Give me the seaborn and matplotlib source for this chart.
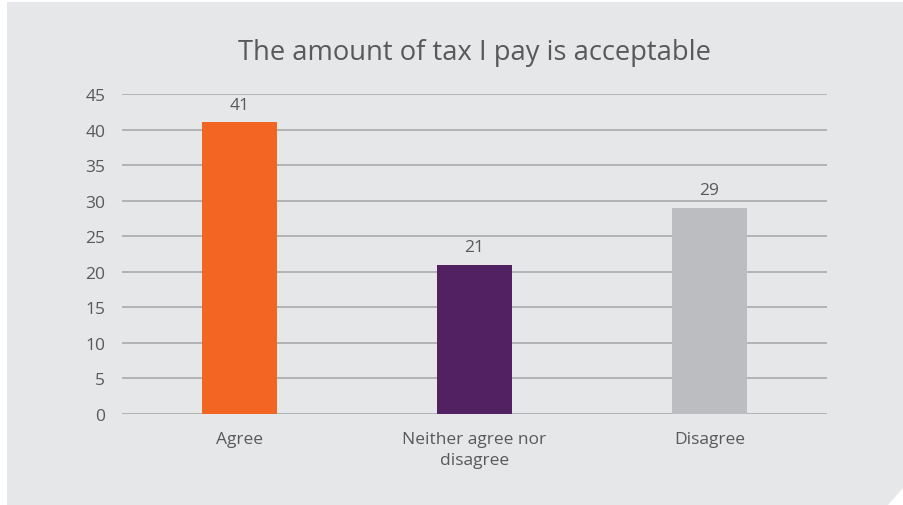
import matplotlib
matplotlib.use("Agg")
import matplotlib.pyplot as plt
from matplotlib.patches import Polygon
import seaborn as sns
import pandas as pd

categories = ["Agree", "Neither agree nor\ndisagree", "Disagree"]
values = [41, 21, 29]
bar_colors = ["#F26522", "#512162", "#BCBDC0"]
y_ticks = [0, 5, 10, 15, 20, 25, 30, 35, 40, 45]
title = "The amount of tax I pay is acceptable"

bg = "#E6E7E8"
text_col = "#595959"
grid_col = "#AEAFB1"

sns.set_style("white")
plt.rcParams["font.family"] = ["Open Sans", "DejaVu Sans"]

df = pd.DataFrame({"Response": categories, "Percent": values})

fig = plt.figure(figsize=(9.04, 5.06), dpi=100, facecolor="white")
# grey panel with cut corner at bottom right
W, H = 904, 506
panel = Polygon([(7 / W, 1 - 3 / H), (1, 1 - 3 / H), (1, 18 / H),
                 (888 / W, 0), (7 / W, 0)],
                closed=True, transform=fig.transFigure, facecolor=bg,
                edgecolor="none", zorder=-5)
fig.patches.append(panel)

ax = fig.add_axes([122 / W, 1 - 415 / H, (827 - 122) / W, (415 - 95) / H])
ax.set_facecolor("none")
ax.set_zorder(2)

sns.barplot(data=df, x="Response", y="Percent", hue="Response",
            palette=bar_colors, width=0.315, legend=False, ax=ax,
            saturation=1, linewidth=0, zorder=3)

ax.set_ylim(0, 45)
ax.set_yticks(y_ticks)
ax.yaxis.grid(True, color=grid_col, linewidth=1.3, zorder=0)
ax.set_axisbelow(True)
for s in ax.spines.values():
    s.set_visible(False)
ax.tick_params(axis="both", length=0, labelsize=12.5, labelcolor=text_col)
ax.tick_params(axis="y", pad=12)
ax.tick_params(axis="x", pad=12)
ax.set_xticks(range(len(categories)), categories, linespacing=1.45)
ax.set_xlabel("")
ax.set_ylabel("")

for container in ax.containers:
    ax.bar_label(container, fmt="%d", padding=7, fontsize=12.5, color=text_col)

fig.text(474 / W, 1 - 53 / H, title, ha="center", va="center",
         fontsize=19.7, color=text_col)

fig.savefig("out.png", dpi=100, facecolor="white")
